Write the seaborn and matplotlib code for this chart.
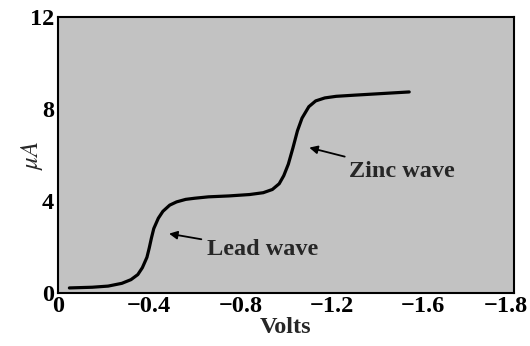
import pandas as pd
import matplotlib
matplotlib.use('Agg')
import matplotlib.pyplot as plt
import matplotlib.transforms as mtransforms
import seaborn as sns

# polarogram (volts, microamps)
volts = [-0.05, -0.15, -0.22, -0.28, -0.32, -0.35, -0.37, -0.39, -0.40, -0.41,
         -0.42, -0.44, -0.46, -0.49, -0.52, -0.56, -0.60, -0.66, -0.75, -0.84,
         -0.90, -0.94, -0.97, -0.99, -1.01, -1.03, -1.05, -1.07, -1.10, -1.13,
         -1.17, -1.22, -1.30, -1.42, -1.54]
current = [0.22, 0.25, 0.30, 0.42, 0.58, 0.80, 1.10, 1.55, 1.95, 2.40,
           2.80, 3.25, 3.55, 3.82, 3.96, 4.07, 4.12, 4.18, 4.22, 4.28,
           4.36, 4.50, 4.75, 5.10, 5.60, 6.30, 7.05, 7.60, 8.10, 8.35,
           8.48, 8.55, 8.60, 8.67, 8.74]

x_ticks = [0, -0.4, -0.8, -1.2, -1.6, -2.0]
x_tick_labels = ['0', '\u22120.4', '\u22120.8', '\u22121.2', '\u22121.6', '\u22121.8']
y_ticks = [0, 4, 8, 12]

df = pd.DataFrame({'Volts': volts, 'uA': current})

sns.set_style('white')
plt.rcParams['font.family'] = ['Liberation Serif', 'DejaVu Serif']
plt.rcParams['mathtext.fontset'] = 'stix'

fig = plt.figure(figsize=(5.30, 3.46), dpi=100)
ax = fig.add_axes([0.1094, 0.1532, 0.8606, 0.7978])
ax.set_facecolor('#c2c2c2')

sns.lineplot(data=df, x='Volts', y='uA', sort=False, color='black', linewidth=2.3, ax=ax)

ax.set_xlim(0, -2.0)
ax.set_ylim(0, 12)
ax.set_xticks(x_ticks)
ax.set_xticklabels(x_tick_labels)
ax.set_yticks(y_ticks)
ax.tick_params(direction='in', length=10, width=1.2, colors='black', labelsize=17.5, pad=2)
ax.tick_params(axis='y', pad=3)
for lab in ax.get_xticklabels() + ax.get_yticklabels():
    lab.set_fontweight('bold')

# last label sits a bit left of the corner in the original
last = ax.get_xticklabels()[-1]
last.set_transform(last.get_transform() + mtransforms.ScaledTranslation(-8 / 100, 0, fig.dpi_scale_trans))

for sp in ax.spines.values():
    sp.set_visible(True)
    sp.set_color('black')
    sp.set_linewidth(1.5)

ax.set_xlabel('Volts', fontsize=17.5, fontweight='bold', labelpad=0)
ax.set_ylabel(r'$\mu A$', fontsize=18, labelpad=-11)

ax.annotate('Lead wave', xy=(-0.475, 2.6), xytext=(-0.655, 1.87),
            fontsize=17.5, fontweight='bold', va='center', ha='left',
            arrowprops=dict(arrowstyle='-|>', color='black', lw=1.3, mutation_scale=12))
ax.annotate('Zinc wave', xy=(-1.09, 6.35), xytext=(-1.275, 5.3),
            fontsize=17.5, fontweight='bold', va='center', ha='left',
            arrowprops=dict(arrowstyle='-|>', color='black', lw=1.3, mutation_scale=12))

fig.savefig('out.png', dpi=100)
